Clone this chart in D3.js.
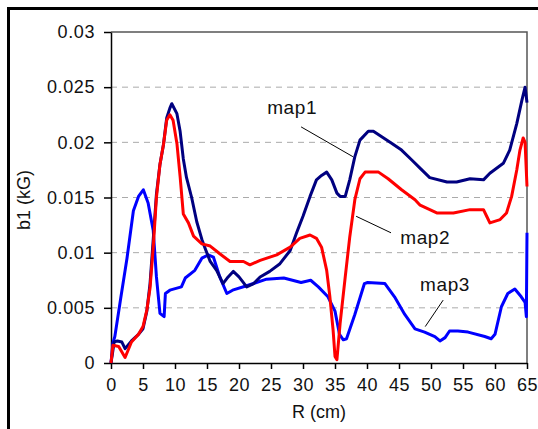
<!DOCTYPE html>
<html>
<head>
<meta charset="utf-8">
<script src="https://cdn.jsdelivr.net/npm/d3@7"></script>
<style>
  body { margin: 0; background: #fff; }
  svg { display: block; font-family: 'Liberation Sans', Arial, sans-serif; }
  .eixo text { font-size: 18px; fill: #111; letter-spacing: 0.6px; }
  .eixo line, .eixo path { stroke: #000; stroke-width: 1.5; }
  .grade line { stroke: #aaa; stroke-dasharray: 6 5; stroke-width: 1; }
  .rotulo { font-size: 19px; fill: #111; letter-spacing: 0.6px; }
</style>
</head>
<body>
<svg id="grafico"></svg>
<script>
// raio (cm) e b1 (kG)
var rMap1 = [0, 0.5, 1, 1.7, 2.2, 3.2, 4.3, 5, 5.6, 6.1, 6.6, 7.1, 7.65, 8.2, 8.7, 9.2, 9.5, 10.3, 10.8, 11.3, 11.8, 12.6, 13.4, 14.2, 14.7, 15.5, 16.5, 17.5, 18.3, 19.1, 20, 21.2, 22.3, 23.3, 24.8, 26.4, 28, 29, 30, 31.1, 32.1, 32.9, 33.7, 34.5, 35.3, 35.8, 36.6, 37.3, 38.1, 38.9, 40.2, 41, 42.3, 43.9, 45.4, 47, 48.4, 49.8, 52.5, 54, 56.1, 58.2, 59.2, 61.3, 62.3, 63.4, 64.2, 64.7, 65];
var map1 = [0, 0.0019, 0.002, 0.0019, 0.0013, 0.002, 0.0026, 0.0031, 0.0047, 0.0072, 0.0112, 0.0153, 0.018, 0.0198, 0.0222, 0.0231, 0.0235, 0.0226, 0.021, 0.0185, 0.0168, 0.015, 0.0128, 0.0112, 0.0104, 0.0092, 0.0084, 0.0072, 0.0078, 0.0083, 0.0078, 0.0069, 0.0072, 0.0078, 0.0083, 0.009, 0.0102, 0.0118, 0.0133, 0.0151, 0.0166, 0.017, 0.0173, 0.0166, 0.0154, 0.0151, 0.0151, 0.0166, 0.0187, 0.0202, 0.021, 0.021, 0.0205, 0.0199, 0.0193, 0.0184, 0.0176, 0.0168, 0.0164, 0.0164, 0.0167, 0.0166, 0.0172, 0.0181, 0.0193, 0.0217, 0.0238, 0.025, 0.0236];

var rMap2 = [0, 0.3, 1.2, 2.2, 2.7, 3.2, 4.3, 5, 5.6, 6.1, 6.6, 7.1, 7.65, 8.2, 8.7, 9.2, 9.7, 10.3, 10.8, 11.3, 12.1, 12.9, 14.2, 15.5, 17, 18.6, 20.7, 21.7, 23.3, 25.9, 28, 29.5, 31.1, 32.1, 32.9, 33.7, 34.2, 34.7, 35, 35.3, 35.8, 36.6, 37.3, 38.1, 38.9, 39.7, 41.8, 43.3, 45.4, 47.5, 48.3, 50.9, 53.5, 56.1, 58.2, 58.7, 59.2, 60.8, 61.8, 62.6, 63.4, 63.9, 64.4, 64.7, 65];
var map2 = [0, 0.0016, 0.0015, 0.0005, 0.0012, 0.0019, 0.0026, 0.0033, 0.0048, 0.0068, 0.0105, 0.015, 0.018, 0.0198, 0.022, 0.0225, 0.022, 0.0199, 0.0169, 0.0135, 0.0127, 0.0115, 0.0108, 0.0106, 0.0099, 0.0092, 0.0092, 0.0089, 0.0093, 0.0098, 0.0105, 0.0113, 0.0116, 0.0113, 0.0105, 0.0084, 0.006, 0.003, 0.0006, 0.0003, 0.0036, 0.0078, 0.0114, 0.0148, 0.0167, 0.0173, 0.0173, 0.0167, 0.0157, 0.0148, 0.0143, 0.0136, 0.0136, 0.0139, 0.0139, 0.0133, 0.0127, 0.013, 0.0136, 0.0151, 0.0175, 0.0193, 0.0204, 0.02, 0.016];

var rMap3 = [0, 0.3, 0.6, 1.5, 2.5, 3.5, 4.3, 5.05, 5.8, 6.6, 7.1, 7.65, 8.3, 8.5, 9.2, 11, 11.6, 13.1, 14.2, 15.2, 16, 17, 18.1, 19, 21.2, 24.3, 27, 29.7, 31.2, 32.4, 33.9, 35, 35.7, 36.3, 36.8, 38.1, 39.6, 40.1, 42.8, 44.3, 45.9, 47.5, 49, 50.6, 51.4, 52.2, 52.9, 54.2, 55.8, 58.4, 59.4, 60, 61, 62, 63.1, 64.1, 64.7, 64.9, 65];
var map3 = [0, 0.0018, 0.0024, 0.0058, 0.0095, 0.0138, 0.0151, 0.0157, 0.0145, 0.012, 0.0078, 0.0045, 0.0042, 0.0063, 0.0066, 0.0069, 0.0077, 0.0084, 0.0095, 0.0098, 0.0096, 0.0078, 0.0063, 0.0066, 0.007, 0.0076, 0.0077, 0.0073, 0.0075, 0.0069, 0.006, 0.0047, 0.0026, 0.0021, 0.0022, 0.0044, 0.0072, 0.0073, 0.0072, 0.006, 0.0044, 0.0031, 0.0028, 0.0024, 0.002, 0.0023, 0.0029, 0.0029, 0.0028, 0.0024, 0.0022, 0.0026, 0.0051, 0.0063, 0.0067, 0.006, 0.0055, 0.0042, 0.0118];

var ticksX = [0, 5, 10, 15, 20, 25, 30, 35, 40, 45, 50, 55, 60, 65];
var ticksY = [0, 0.005, 0.01, 0.015, 0.02, 0.025, 0.03];
var rotulosY = ['0', '0.005', '0.01', '0.015', '0.02', '0.025', '0.03'];
var grade = [0.005, 0.01, 0.015, 0.02, 0.025];

// rotulos: texto, posicao do texto e linha indicadora em unidades dos dados
var rotulos = [
  { nome: 'map1', r: 24.4, b: 0.02255, r1: 29.7, b1: 0.0214, r2: 37.8, b2: 0.0187 },
  { nome: 'map2', r: 45.2, b: 0.01078, r1: 43.75, b1: 0.0118, r2: 38.3, b2: 0.0133 },
  { nome: 'map3', r: 48.3, b: 0.00652, r1: 51.9, b1: 0.0057, r2: 49.1, b2: 0.0033 }
];

var largura = 538, altura = 429;
var margem = { esquerda: 111, direita: 11, superior: 32, inferior: 66 };
var larguraPlotagem = largura - margem.esquerda - margem.direita;
var alturaPlotagem = altura - margem.superior - margem.inferior;

var svg = d3.select('#grafico')
            .attr('width', largura)
            .attr('height', altura);

// moldura externa
svg.append('rect')
   .attr('x', 8.5).attr('y', 8.5)
   .attr('width', largura).attr('height', altura)
   .attr('fill', 'none')
   .attr('stroke', '#000')
   .attr('stroke-width', 3);

var plotagem = svg.append('g')
                  .attr('transform', 'translate(' + margem.esquerda + ',' + margem.superior + ')');

var x = d3.scaleLinear().domain([0, 65]).range([0, larguraPlotagem]);
var y = d3.scaleLinear().domain([0, 0.03]).range([alturaPlotagem, 0]);

plotagem.append('g')
        .classed('grade', true)
        .selectAll('line')
        .data(grade)
        .enter()
          .append('line')
          .attr('x1', 0)
          .attr('x2', larguraPlotagem)
          .attr('y1', d => y(d))
          .attr('y2', d => y(d));

// borda superior e direita
plotagem.append('path')
        .attr('d', 'M0,' + y(0.03) + 'H' + x(65) + 'V' + y(0))
        .attr('fill', 'none')
        .attr('stroke', '#555')
        .attr('stroke-width', 1.5);

var eixoX = d3.axisBottom(x).tickValues(ticksX).tickSize(6).tickPadding(9).tickSizeOuter(0);
plotagem.append('g')
        .classed('eixo', true)
        .attr('transform', 'translate(0,' + alturaPlotagem + ')')
        .call(eixoX);

var eixoY = d3.axisLeft(y).tickValues(ticksY).tickSize(7).tickPadding(9).tickSizeOuter(0)
              .tickFormat((d, i) => rotulosY[i]);
plotagem.append('g')
        .classed('eixo', true)
        .call(eixoY);

var linha = d3.line()
              .x(d => x(d[0]))
              .y(d => y(d[1]));

var series = [
  { r: rMap3, v: map3, cor: '#0000ff' },
  { r: rMap1, v: map1, cor: '#000080' },
  { r: rMap2, v: map2, cor: '#ff0000' }
];

plotagem.selectAll('.serie')
  .data(series)
  .enter()
    .append('path')
    .classed('serie', true)
    .attr('d', d => linha(d.r.map((r, i) => [r, d.v[i]])))
    .attr('fill', 'none')
    .attr('stroke', d => d.cor)
    .attr('stroke-width', 3)
    .attr('stroke-linejoin', 'round');

plotagem.selectAll('.indicador')
  .data(rotulos)
  .enter()
    .append('line')
    .classed('indicador', true)
    .attr('x1', d => x(d.r1))
    .attr('y1', d => y(d.b1))
    .attr('x2', d => x(d.r2))
    .attr('y2', d => y(d.b2))
    .attr('stroke', '#000')
    .attr('stroke-width', 1);

plotagem.selectAll('.rotulo')
  .data(rotulos)
  .enter()
    .append('text')
    .classed('rotulo', true)
    .attr('x', d => x(d.r))
    .attr('y', d => y(d.b))
    .text(d => d.nome);

plotagem.append('text')
        .attr('x', 0)
        .attr('y', 0)
        .style('text-anchor', 'middle')
        .style('font-size', '18px')
        .style('fill', '#111')
        .attr('transform', 'translate(' + (30 - margem.esquerda) + ',' + (200 - margem.superior) + ') rotate(-90)')
        .text('b1 (kG)');

plotagem.append('text')
        .attr('x', 0)
        .attr('y', 0)
        .style('text-anchor', 'middle')
        .style('font-size', '18px')
        .style('fill', '#111')
        .attr('transform', 'translate(' + x(32.5) + ',' + (alturaPlotagem + 55) + ')')
        .text('R (cm)');
</script>
</body>
</html>
